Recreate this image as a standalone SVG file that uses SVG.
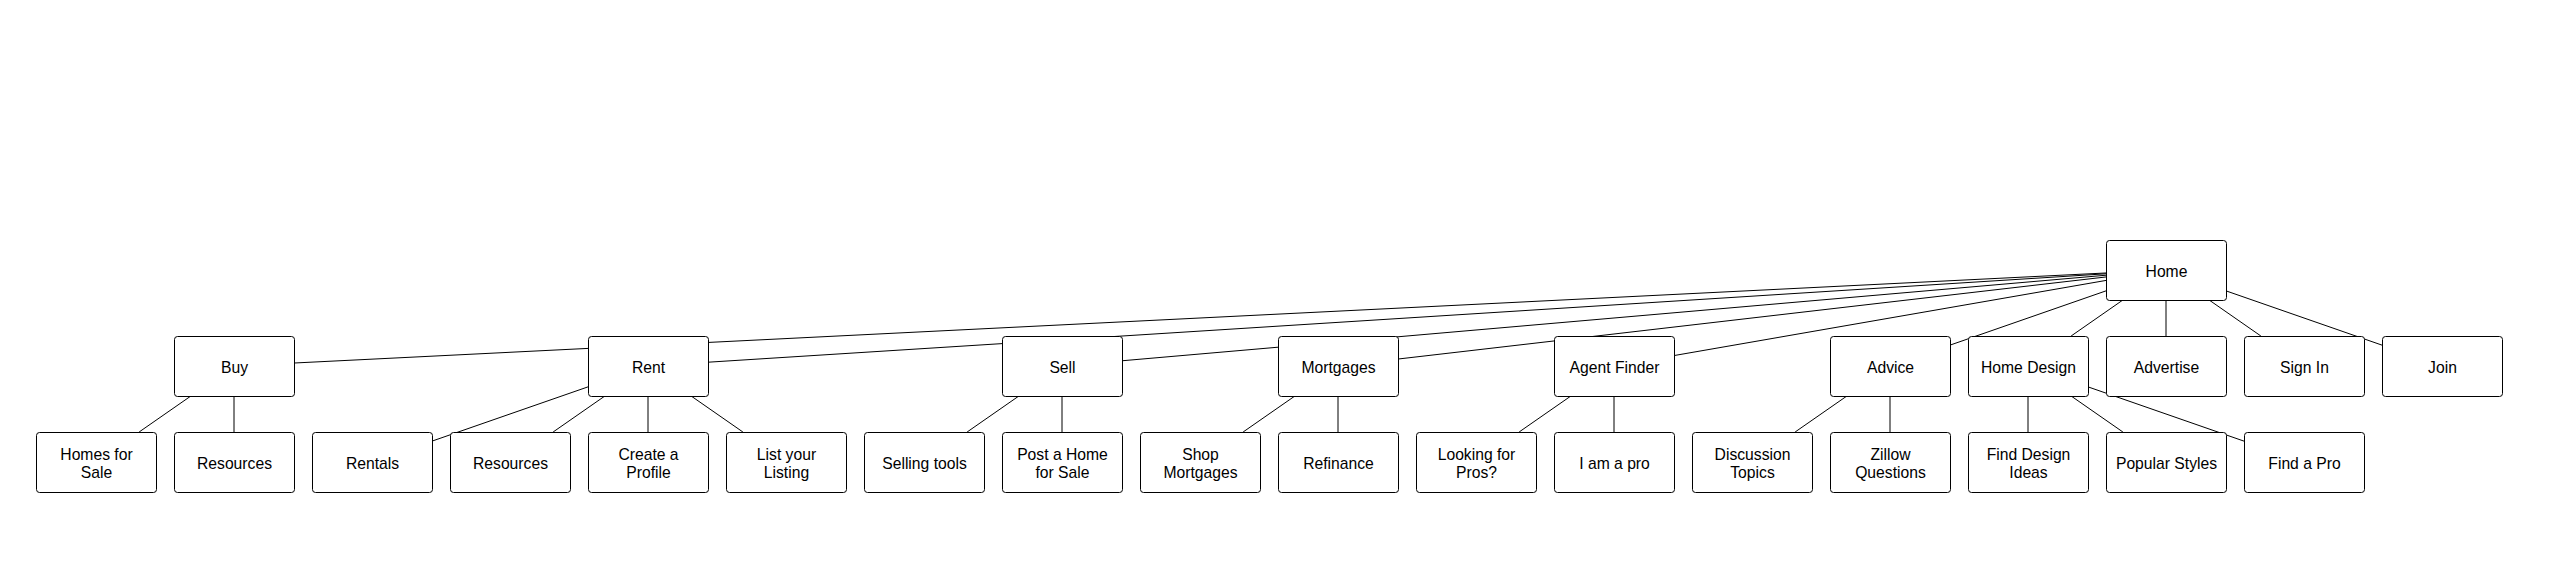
<svg xmlns="http://www.w3.org/2000/svg" width="2574" height="565" viewBox="0 0 2574 565">
<style>
.n rect{fill:#fff;stroke:#000;stroke-width:1}
.n text{font-family:"Liberation Sans",Arial,Helvetica,sans-serif;font-size:15.7px;fill:#000;text-anchor:middle}
#edges line{stroke:#000;stroke-width:1;fill:none}
</style>
<rect width="2574" height="565" fill="#fff"/>
<g id="edges">
<line x1="2106" y1="272.98" x2="294" y2="363.02"/>
<line x1="2106" y1="273.79" x2="708" y2="362.21"/>
<line x1="2106" y1="275.22" x2="1122" y2="360.78"/>
<line x1="2106" y1="276.96" x2="1398" y2="359.04"/>
<line x1="2106" y1="280.43" x2="1674" y2="355.57"/>
<line x1="2106" y1="290.87" x2="1950" y2="345.13"/>
<line x1="2122.875" y1="300" x2="2071.125" y2="336"/>
<line x1="2166" y1="300" x2="2166" y2="336"/>
<line x1="2209.125" y1="300" x2="2260.875" y2="336"/>
<line x1="2226" y1="290.87" x2="2382" y2="345.13"/>
<line x1="190.875" y1="396" x2="139.125" y2="432"/>
<line x1="234" y1="396" x2="234" y2="432"/>
<line x1="588" y1="386.87" x2="432" y2="441.13"/>
<line x1="604.875" y1="396" x2="553.125" y2="432"/>
<line x1="648" y1="396" x2="648" y2="432"/>
<line x1="691.125" y1="396" x2="742.875" y2="432"/>
<line x1="1018.875" y1="396" x2="967.125" y2="432"/>
<line x1="1062" y1="396" x2="1062" y2="432"/>
<line x1="1294.875" y1="396" x2="1243.125" y2="432"/>
<line x1="1338" y1="396" x2="1338" y2="432"/>
<line x1="1570.875" y1="396" x2="1519.125" y2="432"/>
<line x1="1614" y1="396" x2="1614" y2="432"/>
<line x1="1846.875" y1="396" x2="1795.125" y2="432"/>
<line x1="1890" y1="396" x2="1890" y2="432"/>
<line x1="2028" y1="396" x2="2028" y2="432"/>
<line x1="2071.125" y1="396" x2="2122.875" y2="432"/>
<line x1="2088" y1="386.87" x2="2244" y2="441.13"/>
</g>
<g id="home" class="n"><rect x="2106.5" y="240.5" width="120" height="60" rx="3"/><text x="2166.5" y="276.5">Home</text></g>
<g id="buy" class="n"><rect x="174.5" y="336.5" width="120" height="60" rx="3"/><text x="234.5" y="372.5">Buy</text></g>
<g id="rent" class="n"><rect x="588.5" y="336.5" width="120" height="60" rx="3"/><text x="648.5" y="372.5">Rent</text></g>
<g id="sell" class="n"><rect x="1002.5" y="336.5" width="120" height="60" rx="3"/><text x="1062.5" y="372.5">Sell</text></g>
<g id="mortgages" class="n"><rect x="1278.5" y="336.5" width="120" height="60" rx="3"/><text x="1338.5" y="372.5">Mortgages</text></g>
<g id="agent-finder" class="n"><rect x="1554.5" y="336.5" width="120" height="60" rx="3"/><text x="1614.5" y="372.5">Agent Finder</text></g>
<g id="advice" class="n"><rect x="1830.5" y="336.5" width="120" height="60" rx="3"/><text x="1890.5" y="372.5">Advice</text></g>
<g id="home-design" class="n"><rect x="1968.5" y="336.5" width="120" height="60" rx="3"/><text x="2028.5" y="372.5">Home Design</text></g>
<g id="advertise" class="n"><rect x="2106.5" y="336.5" width="120" height="60" rx="3"/><text x="2166.5" y="372.5">Advertise</text></g>
<g id="sign-in" class="n"><rect x="2244.5" y="336.5" width="120" height="60" rx="3"/><text x="2304.5" y="372.5">Sign In</text></g>
<g id="join" class="n"><rect x="2382.5" y="336.5" width="120" height="60" rx="3"/><text x="2442.5" y="372.5">Join</text></g>
<g id="homes-for-sale" class="n"><rect x="36.5" y="432.5" width="120" height="60" rx="3"/><text x="96.5" y="459.5">Homes for</text><text x="96.5" y="478">Sale</text></g>
<g id="buy-resources" class="n"><rect x="174.5" y="432.5" width="120" height="60" rx="3"/><text x="234.5" y="468.5">Resources</text></g>
<g id="rentals" class="n"><rect x="312.5" y="432.5" width="120" height="60" rx="3"/><text x="372.5" y="468.5">Rentals</text></g>
<g id="rent-resources" class="n"><rect x="450.5" y="432.5" width="120" height="60" rx="3"/><text x="510.5" y="468.5">Resources</text></g>
<g id="create-profile" class="n"><rect x="588.5" y="432.5" width="120" height="60" rx="3"/><text x="648.5" y="459.5">Create a</text><text x="648.5" y="478">Profile</text></g>
<g id="list-listing" class="n"><rect x="726.5" y="432.5" width="120" height="60" rx="3"/><text x="786.5" y="459.5">List your</text><text x="786.5" y="478">Listing</text></g>
<g id="selling-tools" class="n"><rect x="864.5" y="432.5" width="120" height="60" rx="3"/><text x="924.5" y="468.5">Selling tools</text></g>
<g id="post-home" class="n"><rect x="1002.5" y="432.5" width="120" height="60" rx="3"/><text x="1062.5" y="459.5">Post a Home</text><text x="1062.5" y="478">for Sale</text></g>
<g id="shop-mortgages" class="n"><rect x="1140.5" y="432.5" width="120" height="60" rx="3"/><text x="1200.5" y="459.5">Shop</text><text x="1200.5" y="478">Mortgages</text></g>
<g id="refinance" class="n"><rect x="1278.5" y="432.5" width="120" height="60" rx="3"/><text x="1338.5" y="468.5">Refinance</text></g>
<g id="looking-pros" class="n"><rect x="1416.5" y="432.5" width="120" height="60" rx="3"/><text x="1476.5" y="459.5">Looking for</text><text x="1476.5" y="478">Pros?</text></g>
<g id="i-am-pro" class="n"><rect x="1554.5" y="432.5" width="120" height="60" rx="3"/><text x="1614.5" y="468.5">I am a pro</text></g>
<g id="discussion-topics" class="n"><rect x="1692.5" y="432.5" width="120" height="60" rx="3"/><text x="1752.5" y="459.5">Discussion</text><text x="1752.5" y="478">Topics</text></g>
<g id="zillow-questions" class="n"><rect x="1830.5" y="432.5" width="120" height="60" rx="3"/><text x="1890.5" y="459.5">Zillow</text><text x="1890.5" y="478">Questions</text></g>
<g id="find-design-ideas" class="n"><rect x="1968.5" y="432.5" width="120" height="60" rx="3"/><text x="2028.5" y="459.5">Find Design</text><text x="2028.5" y="478">Ideas</text></g>
<g id="popular-styles" class="n"><rect x="2106.5" y="432.5" width="120" height="60" rx="3"/><text x="2166.5" y="468.5">Popular Styles</text></g>
<g id="find-pro" class="n"><rect x="2244.5" y="432.5" width="120" height="60" rx="3"/><text x="2304.5" y="468.5">Find a Pro</text></g>
</svg>
